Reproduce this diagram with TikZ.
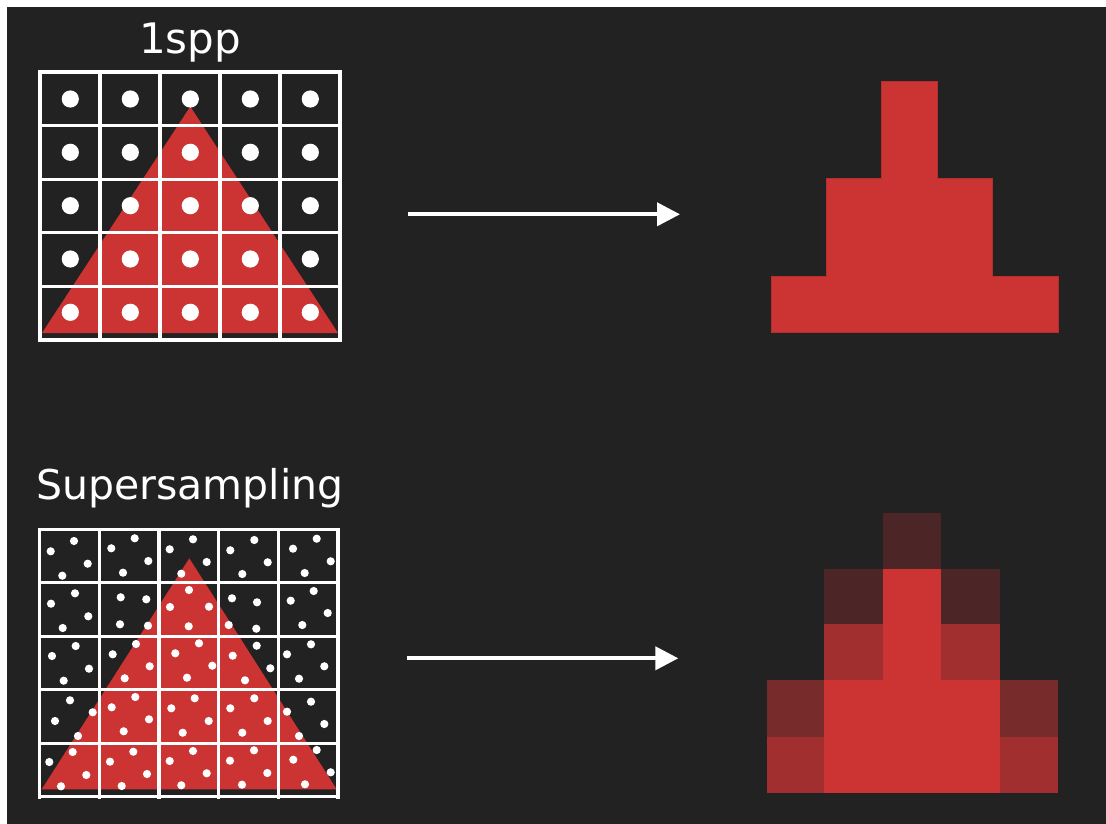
\documentclass[tikz,border=0pt]{standalone}
\usepackage{fontspec}
\setmainfont{DejaVu Sans}
\usetikzlibrary{arrows.meta}
\definecolor{bg}{HTML}{222222}
\definecolor{tri}{HTML}{CC3333}
\definecolor{edge}{HTML}{B52D2D}
\begin{document}
\begin{tikzpicture}[x=1pt,y=-1pt,
  gridline/.style={draw=white,line width=3.3pt,line cap=rect},
  bigdot/.style={fill=white},
  smalldot/.style={fill=white},
  pix/.style={fill=tri,draw=edge,line width=0.8pt},
  conn/.style={draw=white,line width=4pt,-{Triangle[length=23pt,width=23pt]}},
  titletext/.style={text=white,anchor=base,inner sep=0pt}]
\useasboundingbox (0,0) rectangle (1106,824);
\fill[white] (0,0) rectangle (1106,824);
\fill[bg] (7,7) rectangle (1106,824);

% ---------- top: 1spp ----------
\node[titletext,font=\fontsize{42}{48}\selectfont] (t1) at (190,54) {1spp};
\fill[tri] (42,333) -- (190.3,106.5) -- (338,333) -- cycle;
\foreach \i in {0,...,5} {
  \draw[gridline] (40+60*\i,72) -- (40+60*\i,340);
  \draw[gridline] (40,72+53.6*\i) -- (340,72+53.6*\i);
}
\foreach \cx in {70.3,130.3,190.3,250.3,310.3}
  \foreach \cy in {99,152.3,205.7,259,312.3}
    \fill[bigdot] (\cx,\cy) circle (8.6);

\coordinate (a1s) at (408,214.3);
\coordinate (a1e) at (680,214.3);
\draw[conn] (a1s) -- (a1e);

\draw[pix] (771,332.3) -- (771,276.7) -- (826,276.7) -- (826,178.3) -- (881,178.3)
  -- (881,81.7) -- (937.7,81.7) -- (937.7,178.3) -- (992.7,178.3) -- (992.7,276.7)
  -- (1058.3,276.7) -- (1058.3,332.3) -- cycle;

% ---------- bottom: supersampling ----------
\node[titletext,font=\fontsize{41}{48}\selectfont] (t2) at (190,499) {Supersampling};
\fill[tri] (41.7,789.3) -- (189.3,558.3) -- (336.7,789.3) -- cycle;
\foreach \i in {0,...,5} {
  \draw[gridline] (39.5+59.7*\i,529.3) -- (39.5+59.7*\i,797);
  \draw[gridline] (39.5,529.3+53.5*\i) -- (338,529.3+53.5*\i);
}
\foreach \p in {
  (74,541),(50.7,551.3),(87.7,563.7),(62.3,575.7),
  (134.7,538.3),(111.3,548.3),(148.3,561),(123,572.7),
  (193,539.3),(169.7,549.3),(206.7,562),(181.3,573.7),
  (254.3,540),(230.3,550.3),(267.7,562.3),(242.3,574),
  (316.7,538.7),(293,548.7),(330.7,561.3),(304.7,573),
  (75,593.3),(51,603.7),(88.3,616.3),(62.7,628),
  (120.7,597.3),(146.3,599.3),(120,624.3),(148,625.7),
  (189,590),(170,607),(209,606.7),(188.7,626.3),
  (232,598.3),(257,602.3),(228.7,625),(256.3,628.7),
  (313.7,591),(290.7,600.7),(327.7,613),(302.3,625),
  (75.7,646),(52,656),(89,668.7),(63.7,680.7),
  (136,644),(112.7,654.3),(149.7,666.3),(124.7,678.3),
  (199,643.3),(175.3,653.3),(212.3,665.7),(187,677.7),
  (256.7,645.7),(232.7,655.7),(270.3,668.3),(245,680.3),
  (311,644.3),(287,654.3),(324.3,666.3),(299,678.7),
  (70,700.3),(92.7,712.3),(55,721),(78,736),
  (135.3,697),(111.7,707.3),(149,719.3),(123.7,731.3),
  (194.7,698.3),(171.3,708.3),(208.7,721),(182.7,732.7),
  (254.3,698.3),(230.3,708.3),(267.7,721),(242.3,732.7),
  (311,701.7),(287,711.7),(324.3,724),(299,736),
  (72.7,752),(49.3,762),(86.3,775),(61,786.3),
  (133.3,751.7),(110,761.7),(147,774),(121.7,786),
  (193,751),(169.7,761),(206.7,773.3),(181.3,785.3),
  (254,750.3),(230,760.7),(267.3,773),(242,784.7),
  (316.7,750),(293.3,759.7),(330.7,772.3),(305,784.3)}
  \fill[smalldot] \p circle (4.1);

\coordinate (a2s) at (406.7,658.3);
\coordinate (a2e) at (678.3,658.3);
\draw[conn] (a2s) -- (a2e);

% resolved pixels (coverage 1/4, 1/2, 3/4, 1)
\def\xa{766.7}\def\xb{824.3}\def\xc{883.3}\def\xd{941}\def\xe{1000}\def\xf{1058.3}
\def\ya{513.3}\def\yb{569.3}\def\yc{624}\def\yd{680.3}\def\ye{736.7}\def\yf{792.7}
\fill[tri!25!bg] (\xc,\ya) rectangle (\xd,\yb);
\fill[tri!25!bg] (\xb,\yb) rectangle (\xc,\yc);
\fill[tri!25!bg] (\xd,\yb) rectangle (\xe,\yc);
\fill[tri!75!bg] (\xb,\yc) rectangle (\xc,\yd);
\fill[tri!75!bg] (\xd,\yc) rectangle (\xe,\yd);
\fill[tri!50!bg] (\xa,\yd) rectangle (\xb,\ye);
\fill[tri!50!bg] (\xe,\yd) rectangle (\xf,\ye);
\fill[tri!75!bg] (\xa,\ye) rectangle (\xb,\yf);
\fill[tri!75!bg] (\xe,\ye) rectangle (\xf,\yf);
\fill[tri] (\xc,\yb) rectangle (\xd,\yd);
\fill[tri] (\xb,\yd) rectangle (\xe,\yf);
\end{tikzpicture}
\end{document}
